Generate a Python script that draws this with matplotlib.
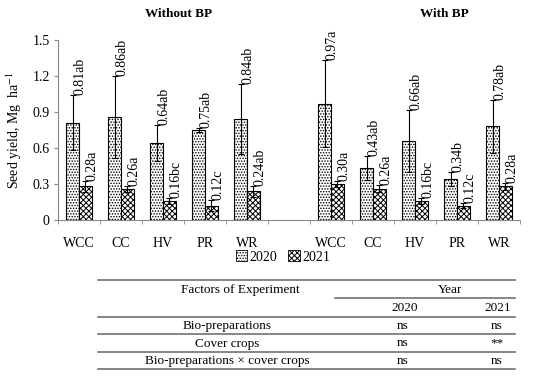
import matplotlib
matplotlib.use("Agg")
import matplotlib.pyplot as plt
from matplotlib.patches import Patch
from matplotlib.lines import Line2D
import numpy as np

plt.rcParams['font.family'] = ['Liberation Serif', 'DejaVu Serif']
plt.rcParams['mathtext.fontset'] = 'stix'
plt.rcParams['hatch.linewidth'] = 0.7

crops = ["WCC", "CC", "HV", "PR", "WR"]
groups = ["Without BP", "With BP"]

y2020_wo = [0.81, 0.86, 0.64, 0.75, 0.84]
e2020_wo = [0.23, 0.34, 0.15, 0.02, 0.29]
l2020_wo = ["0.81ab", "0.86ab", "0.64ab", "0.75ab", "0.84ab"]
y2021_wo = [0.28, 0.26, 0.16, 0.12, 0.24]
e2021_wo = [0.045, 0.025, 0.025, 0.045, 0.045]
l2021_wo = ["0.28a", "0.26a", "0.16bc", "0.12c", "0.24ab"]

y2020_w = [0.97, 0.43, 0.66, 0.34, 0.78]
e2020_w = [0.36, 0.10, 0.26, 0.06, 0.22]
l2020_w = ["0.97a", "0.43ab", "0.66ab", "0.34b", "0.78ab"]
y2021_w = [0.30, 0.26, 0.16, 0.12, 0.28]
e2021_w = [0.025, 0.03, 0.025, 0.02, 0.03]
l2021_w = ["0.30a", "0.26a", "0.16bc", "0.12c", "0.28a"]

years = ["2020", "2021"]

tab_header = "Factors of Experiment"
tab_rows = ["Bio-preparations", "Cover crops", "Bio-preparations \u00d7 cover crops"]
tab_2020 = ["ns", "ns", "ns"]
tab_2021 = ["ns", "**", "ns"]

fig = plt.figure(figsize=(5.5, 3.77), dpi=100)
ax = fig.add_axes([58/550, 1-220/377, 462/550, 180/377])

pos_wo = np.arange(5)
pos_w = np.arange(6, 11)
bw = 0.3

y2020 = y2020_wo + y2020_w
e2020 = e2020_wo + e2020_w
y2021 = y2021_wo + y2021_w
e2021 = e2021_wo + e2021_w
l2020 = l2020_wo + l2020_w
l2021 = l2021_wo + l2021_w
pos = np.concatenate([pos_wo, pos_w])

ekw = dict(ecolor='black', elinewidth=0.8, capsize=2.5, capthick=0.8)
ax.bar(pos - bw/2, y2020, bw, yerr=e2020, color='white', edgecolor='black',
       linewidth=0.8, hatch='......', error_kw=ekw, label=years[0])
ax.bar(pos + bw/2, y2021, bw, yerr=e2021, color='white', edgecolor='black',
       linewidth=0.8, hatch='xxxxxx', error_kw=ekw, label=years[1])

for p, v, e, l in zip(pos, y2020, e2020, l2020):
    ax.text(p - bw/2 + 0.18, v + e, l, rotation=90, ha='center', va='bottom',
            fontsize=10)
for p, v, e, l in zip(pos, y2021, e2021, l2021):
    ax.text(p + bw/2 + 0.16, v + e, l, rotation=90, ha='center', va='bottom',
            fontsize=10)

ax.set_xlim(-0.5, 10.5)
ax.set_ylim(0, 1.5)
ax.set_yticks([0, 0.3, 0.6, 0.9, 1.2, 1.5])
ax.set_yticklabels(["0", "0.3", "0.6", "0.9", "1.2", "1.5"], fontsize=10)
ax.set_xticks(pos)
ax.set_xticklabels(crops + crops, fontsize=10)
ax.set_xticks(np.arange(-0.5, 11, 1), minor=True)
ax.tick_params(axis='x', which='major', length=0, pad=12)
ax.tick_params(axis='x', which='minor', length=3, color='#888888', direction='out')
ax.tick_params(axis='y', length=3, color='#888888', direction='out', pad=3)
for s in ['top', 'right']:
    ax.spines[s].set_visible(False)
for s in ['left', 'bottom']:
    ax.spines[s].set_color('#888888')
    ax.spines[s].set_linewidth(0.8)

ax.set_ylabel("Seed yield, Mg  ha$^{-1}$", fontsize=10, labelpad=6)

fig.text(179/550, 1-14/377, groups[0], ha='center', va='center',
         fontsize=9.5, fontweight='bold')
fig.text(444/550, 1-14/377, groups[1], ha='center', va='center',
         fontsize=9.5, fontweight='bold')

handles = [Patch(facecolor='white', edgecolor='black', hatch='......', linewidth=0.6),
           Patch(facecolor='white', edgecolor='black', hatch='xxxxxx', linewidth=0.6)]
fig.legend(handles, years, loc='center', bbox_to_anchor=(283/550, 1-257/377),
           ncol=2, frameon=False, fontsize=10, handlelength=0.8, handleheight=0.8,
           handletextpad=0.2, columnspacing=0.8)

# table
lc = '#666666'
x0, x1 = 98/550, 515/550
def hline(ypx, xa=x0, xb=x1, lw=1.1):
    fig.add_artist(Line2D([xa, xb], [1-ypx/377, 1-ypx/377], color=lc, linewidth=lw))

hline(280)
hline(298, 335/550, x1)
hline(317)
hline(334)
hline(352)
hline(369)
tf = 9.5
fig.text(240/550, 1-290/377, tab_header, ha='center', va='center', fontsize=tf)
fig.text(450/550, 1-290/377, "Year", ha='center', va='center', fontsize=tf)
fig.text(405/550, 1-308/377, years[0], ha='center', va='center', fontsize=tf)
fig.text(498/550, 1-308/377, years[1], ha='center', va='center', fontsize=tf)
for i, (r, a, b) in enumerate(zip(tab_rows, tab_2020, tab_2021)):
    yy = 1 - (326 + 17.5*i)/377
    fig.text(227/550, yy, r, ha='center', va='center', fontsize=tf)
    fig.text(403/550, yy, a, ha='center', va='center', fontsize=tf)
    fig.text(497/550, yy, b, ha='center', va='center', fontsize=tf)

fig.savefig("out.png", dpi=100)
